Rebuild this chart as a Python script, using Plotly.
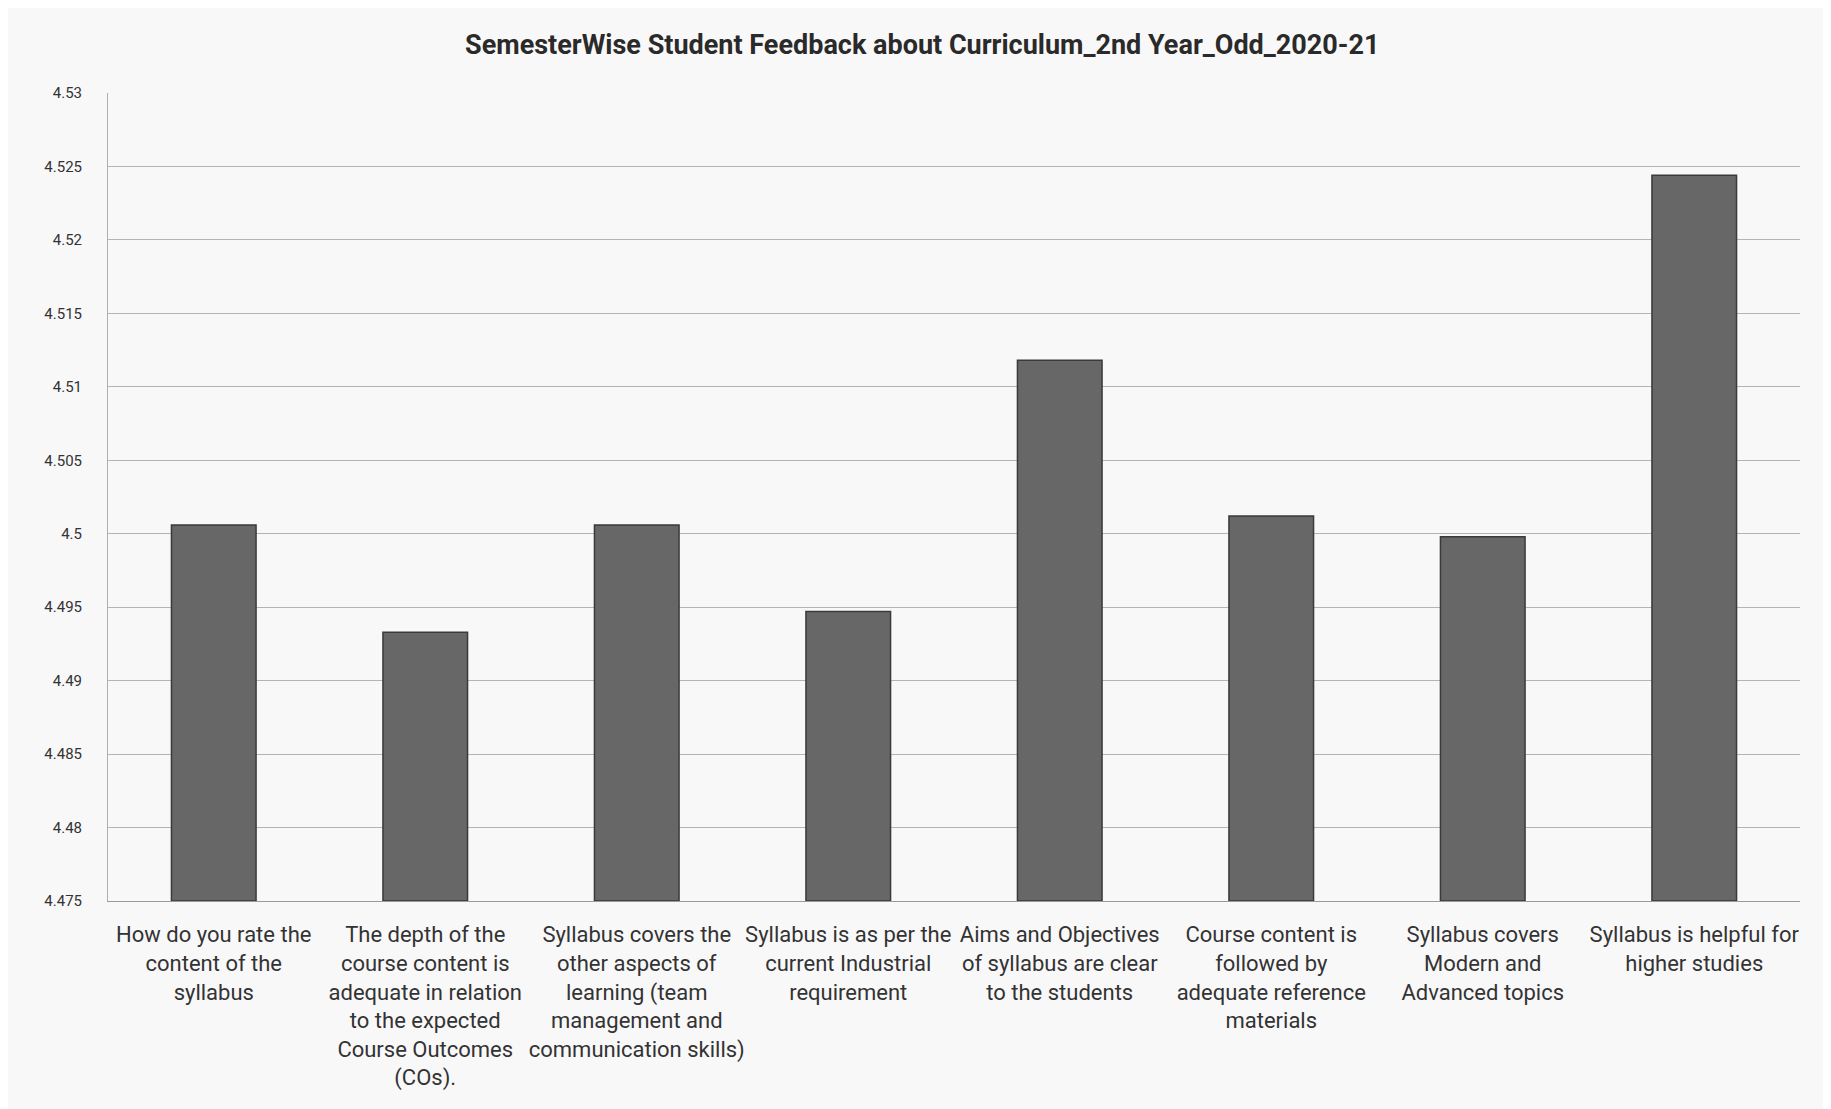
import plotly.graph_objects as go

categories = [
    "How do you rate the<br>content of the<br>syllabus",
    "The depth of the<br>course content is<br>adequate in relation<br>to the expected<br>Course Outcomes<br>(COs).",
    "Syllabus covers the<br>other aspects of<br>learning (team<br>management and<br>communication skills)",
    "Syllabus is as per the<br>current Industrial<br>requirement",
    "Aims and Objectives<br>of syllabus are clear<br>to the students",
    "Course content is<br>followed by<br>adequate reference<br>materials",
    "Syllabus covers<br>Modern and<br>Advanced topics",
    "Syllabus is helpful for<br>higher studies",
]
values = [4.5006, 4.4933, 4.5006, 4.4947, 4.5118, 4.5012, 4.4998, 4.5244]
y_ticks = [4.475, 4.48, 4.485, 4.49, 4.495, 4.5, 4.505, 4.51, 4.515, 4.52, 4.525, 4.53]
y_tick_text = ["4.475", "4.48", "4.485", "4.49", "4.495", "4.5", "4.505", "4.51", "4.515", "4.52", "4.525", "4.53"]

title = "SemesterWise Student Feedback about Curriculum_2nd Year_Odd_2020-21"

FONT = "Roboto, sans-serif"
Y_MIN = 4.475

fig = go.Figure(
    go.Bar(
        x=categories,
        y=[v - Y_MIN for v in values],
        base=Y_MIN,
        marker=dict(color="#676767", line=dict(color="#3a3a3a", width=1.5)),
    )
)

fig.update_layout(
    width=1823,
    height=1101,
    margin=dict(l=100, r=31, t=85, b=208),
    paper_bgcolor="#f9f8f9",
    plot_bgcolor="#f9f8f9",
    bargap=0.6,
    showlegend=False,
    title=dict(
        text="<b>" + title + "</b>",
        x=0.5015,
        xref="container",
        xanchor="center",
        y=0.967,
        yref="container",
        yanchor="middle",
        font=dict(family=FONT, size=27, color="#2a2a2a"),
    ),
    font=dict(family=FONT, color="#333333"),
)
fig.update_xaxes(
    showgrid=False,
    showline=True,
    linecolor="#9a9a9a",
    linewidth=1,
    tickfont=dict(family=FONT, size=22, color="#333333"),
    tickangle=0,
    ticks="",
    ticklabelstandoff=14,
)
fig.update_yaxes(
    range=[Y_MIN, 4.53],
    tickvals=y_ticks,
    ticktext=y_tick_text,
    showgrid=True,
    gridcolor="#b4b4b4",
    gridwidth=1.2,
    showline=True,
    linecolor="#b0b0b0",
    zeroline=False,
    tickfont=dict(family=FONT, size=15, color="#333333"),
    ticks="",
    ticklabelstandoff=22,
)

fig.write_html("out.html")
